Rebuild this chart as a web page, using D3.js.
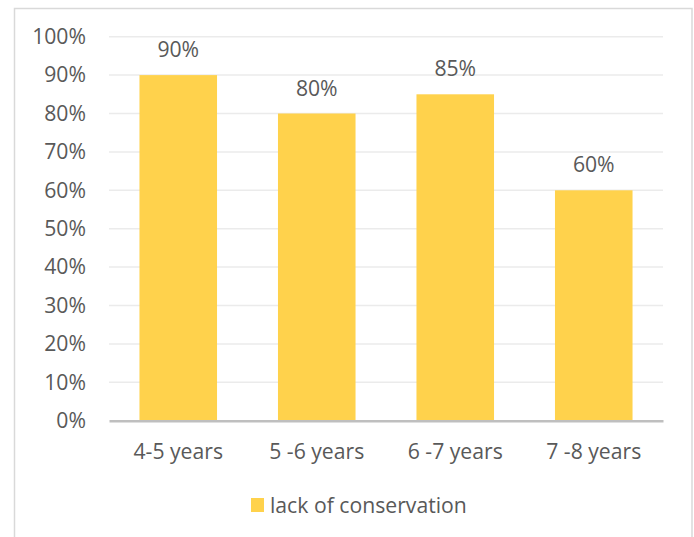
<!DOCTYPE html>
<html>
<head>
<meta charset="utf-8">
<script src="https://cdn.jsdelivr.net/npm/d3@7"></script>
<style>
  html, body { margin: 0; padding: 0; background: #fff; }
  svg { display: block; }
  text { font-family: "Open Sans", Lato, sans-serif; fill: #595959; }
</style>
</head>
<body>
<svg id="chart" width="694" height="537"></svg>
<script>
// Share of children showing lack of conservation, by age group
const categories = ["4-5 years", "5 -6 years", "6 -7 years", "7 -8 years"];
const values = [0.90, 0.80, 0.85, 0.60];
const yTicks = [0, 0.1, 0.2, 0.3, 0.4, 0.5, 0.6, 0.7, 0.8, 0.9, 1.0];
const seriesName = "lack of conservation";

const svg = d3.select("#chart");
const W = 694, H = 537;
const plot = { left: 109, right: 663, top: 36.7, bottom: 420.7 };
const barColor = "#FFD24C";
const fontSize = 21.2;
const fontFamily = "'Open Sans', Lato, sans-serif";

// outer frame
svg.append("rect")
  .attr("x", 14.5).attr("y", 8.5)
  .attr("width", 692 - 14.5).attr("height", H)
  .attr("fill", "#fff")
  .attr("stroke", "#D9D9D9").attr("stroke-width", 1.5);

const x = d3.scaleBand()
  .domain(categories)
  .range([plot.left, plot.right])
  .paddingInner(0.44)
  .paddingOuter(0.22);

const y = d3.scaleLinear().domain([0, 1]).range([plot.bottom, plot.top]);
const fmt = d3.format(".0%");

// gridlines
svg.append("g")
  .selectAll("line")
  .data(yTicks.filter(t => t > 0))
  .join("line")
  .attr("x1", plot.left).attr("x2", plot.right)
  .attr("y1", d => y(d)).attr("y2", d => y(d))
  .attr("stroke", "#EBEBEB").attr("stroke-width", 1.5);

// y axis labels
const yAxis = d3.axisLeft(y).tickValues(yTicks).tickFormat(fmt).tickSize(0).tickPadding(0);
const gy = svg.append("g").attr("transform", `translate(${plot.left - 23},0)`).call(yAxis);
gy.select(".domain").remove();
gy.selectAll("text").attr("font-size", fontSize).attr("fill", "#595959")
  .style("font-family", fontFamily);

// bars
svg.append("g")
  .selectAll("rect")
  .data(values)
  .join("rect")
  .attr("x", (d, i) => x(categories[i]))
  .attr("width", x.bandwidth())
  .attr("y", d => y(d))
  .attr("height", d => y(0) - y(d))
  .attr("fill", barColor);

// value labels
svg.append("g")
  .selectAll("text")
  .data(values)
  .join("text")
  .attr("x", (d, i) => x(categories[i]) + x.bandwidth() / 2)
  .attr("y", d => y(d) - 18)
  .attr("text-anchor", "middle")
  .attr("font-size", fontSize)
  .text(d => fmt(d));

// x axis
const xAxis = d3.axisBottom(x).tickSize(0).tickPadding(23);
const gx = svg.append("g").attr("transform", `translate(0,${plot.bottom})`).call(xAxis);
gx.select(".domain").attr("stroke", "#BFBFBF").attr("stroke-width", 2.5);
gx.selectAll("text").attr("font-size", fontSize).attr("fill", "#595959")
  .style("font-family", fontFamily);

// legend
const legend = svg.append("g").attr("transform", "translate(251,498)");
legend.append("rect").attr("width", 13).attr("height", 14).attr("fill", barColor);
legend.append("text").attr("x", 19).attr("y", 14.5).attr("font-size", fontSize).text(seriesName);
</script>
</body>
</html>
